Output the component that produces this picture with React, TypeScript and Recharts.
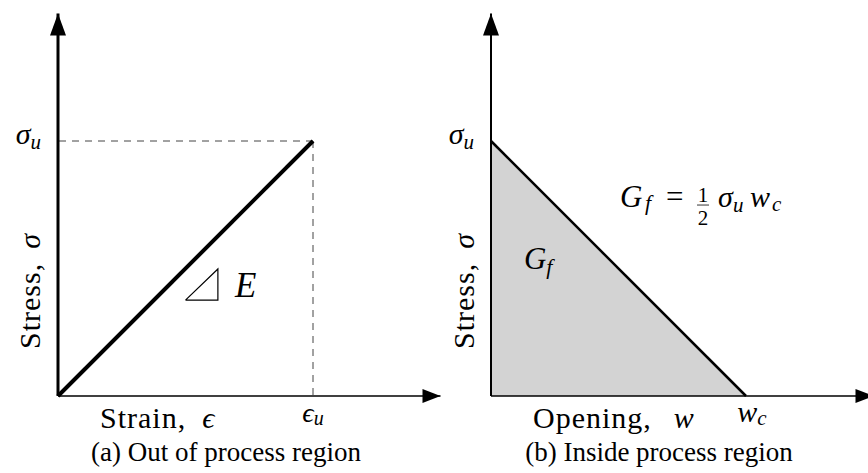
import { ComposedChart, Line, Area, XAxis, YAxis, ReferenceLine, ReferenceDot } from 'recharts';

// both panels are normalised: sigma_u, eps_u and w_c all sit at 1
const AXIS_END = 1.5;
const PEAK = 1;

// (a) linear elastic branch
const strain = [0, 1];
const stress = [0, 1];
// slope marker next to the elastic line
const slopeTriX = [0.5, 0.627, 0.627, 0.5];
const slopeTriY = [0.376, 0.376, 0.498, 0.376];

// (b) linear softening law
const opening = [0, 1];
const softening = [1, 0];

// anchors (baseline-left) for the in-plot math labels
const E_LABEL = { x: 0.694, y: 0.388 };
const GF_LABEL = { x: 0.129, y: 0.498 };
const GF_EQ = { x: 0.506, y: 0.741 };

const elasticData = strain.map((x, i) => ({ x, y: stress[i] }));
const triData = slopeTriX.map((x, i) => ({ x, y: slopeTriY[i] }));
const softData = opening.map((x, i) => ({ x, y: softening[i] }));

const SERIF = "'Liberation Serif', 'DejaVu Serif', serif";
const W = 451;
const H = 473;

const ArrowUp = ({ cx, cy }: any) => (
  <path d={`M${cx},${cy} L${cx - 8},${cy + 22} L${cx + 8},${cy + 22} Z`} fill="#000" />
);
const ArrowRight = ({ cx, cy }: any) => (
  <path d={`M${cx},${cy} L${cx - 18},${cy - 7} L${cx - 18},${cy + 7} Z`} fill="#000" />
);

const SigmaTick = ({ x, y }: any) => (
  <text x={x - 17} y={y + 3} fontFamily={SERIF} fontStyle="italic" fontSize={30} textAnchor="end" fill="#000">
    σ<tspan fontSize={21} dy={5}>u</tspan>
  </text>
);

const EpsTick = ({ x, y }: any) => (
  <text x={x} y={y + 26} fontFamily={SERIF} fontStyle="italic" fontSize={28} textAnchor="middle" fill="#000">
    ϵ<tspan fontSize={20} dy={3}>u</tspan>
  </text>
);

const WcTick = ({ x, y }: any) => (
  <text x={x + 6} y={y + 26} fontFamily={SERIF} fontStyle="italic" fontSize={30} textAnchor="middle" fill="#000">
    w<tspan fontSize={21} dy={3}>c</tspan>
  </text>
);

const stressTitle = ({ viewBox }: any) => {
  const tx = viewBox.x + 40;
  const ty = viewBox.y + viewBox.height - 105;
  return (
    <text x={tx} y={ty} transform={`rotate(-90, ${tx}, ${ty})`} textAnchor="middle" fontFamily={SERIF} fontSize={30} letterSpacing={1} fill="#000">
      Stress,<tspan dx={14} fontStyle="italic">σ</tspan>
    </text>
  );
};

const xTitle = (name: string, sym: string, caption: string, gap: number) => ({ viewBox }: any) => (
  <g fontFamily={SERIF} fill="#000">
    <text x={viewBox.x + 42} y={viewBox.y + 32} fontSize={30} letterSpacing={1}>
      {name}<tspan dx={gap} fontStyle="italic">{sym}</tspan>
    </text>
    <text x={viewBox.x + 168} y={viewBox.y + 65} fontSize={27} textAnchor="middle">{caption}</text>
  </g>
);

const ELabel = ({ cx, cy }: any) => (
  <text x={cx} y={cy} fontFamily={SERIF} fontStyle="italic" fontSize={35} fill="#000">E</text>
);

const GfLabel = ({ cx, cy }: any) => (
  <text x={cx} y={cy} fontFamily={SERIF} fontStyle="italic" fontSize={31} fill="#000">
    G<tspan fontSize={22} dy={5}>f</tspan>
  </text>
);

const GfEquation = ({ cx, cy }: any) => (
  <g fontFamily={SERIF} fill="#000">
    <text x={cx} y={cy} fontStyle="italic" fontSize={31}>G</text>
    <text x={cx + 25} y={cy + 3} fontStyle="italic" fontSize={22}>f</text>
    <text x={cx + 46} y={cy} fontSize={31}>=</text>
    <text x={cx + 83} y={cy - 5} fontSize={21} textAnchor="middle">1</text>
    <line x1={cx + 77} x2={cx + 89} y1={cy - 2} y2={cy - 2} stroke="#000" strokeWidth={0.8} />
    <text x={cx + 83} y={cy + 18} fontSize={21} textAnchor="middle">2</text>
    <text x={cx + 98} y={cy} fontStyle="italic" fontSize={30}>σ</text>
    <text x={cx + 113} y={cy + 5} fontStyle="italic" fontSize={21}>u</text>
    <text x={cx + 130} y={cy} fontStyle="italic" fontSize={30}>w</text>
    <text x={cx + 152} y={cy + 4} fontStyle="italic" fontSize={21}>c</text>
  </g>
);

function ElasticPanel() {
  return (
    <ComposedChart width={W} height={H} margin={{ top: 13.5, right: 10.5, bottom: 0, left: 0 }}>
      <XAxis
        type="number" dataKey="x" domain={[0, AXIS_END]} ticks={[PEAK]} height={77}
        axisLine={{ stroke: '#000', strokeWidth: 1.5 }} tickLine={false} tickSize={0} tickMargin={0}
        tick={(p: any) => <EpsTick {...p} />}
        label={xTitle('Strain,', 'ϵ', '(a) Out of process region', 16)}
      />
      <YAxis
        type="number" dataKey="y" domain={[0, AXIS_END]} ticks={[PEAK]} width={58}
        axisLine={{ stroke: '#000', strokeWidth: 3 }} tickLine={false} tickSize={0} tickMargin={0}
        tick={(p: any) => <SigmaTick {...p} />}
        label={stressTitle}
      />
      <ReferenceLine segment={[{ x: PEAK, y: PEAK }, { x: 0, y: PEAK }]} stroke="#444" strokeWidth={1} strokeDasharray="7 6" ifOverflow="visible" />
      <ReferenceLine segment={[{ x: PEAK, y: PEAK }, { x: PEAK, y: 0 }]} stroke="#444" strokeWidth={1} strokeDasharray="7 6" ifOverflow="visible" />
      <Line data={elasticData} dataKey="y" type="linear" stroke="#000" strokeWidth={4} dot={false} isAnimationActive={false} />
      <Line data={triData} dataKey="y" type="linear" stroke="#000" strokeWidth={1.2} dot={false} isAnimationActive={false} />
      <ReferenceDot x={E_LABEL.x} y={E_LABEL.y} r={1} shape={ELabel} ifOverflow="visible" />
      <ReferenceDot x={0} y={AXIS_END} r={1} shape={ArrowUp} ifOverflow="visible" />
      <ReferenceDot x={AXIS_END} y={0} r={1} shape={ArrowRight} ifOverflow="visible" />
    </ComposedChart>
  );
}

function SofteningPanel() {
  return (
    <ComposedChart width={W} height={H} margin={{ top: 13.5, right: 11.5, bottom: 0, left: 0 }}>
      <XAxis
        type="number" dataKey="x" domain={[0, AXIS_END]} ticks={[PEAK]} height={77}
        axisLine={{ stroke: '#000', strokeWidth: 1.5 }} tickLine={false} tickSize={0} tickMargin={0}
        tick={(p: any) => <WcTick {...p} />}
        label={xTitle('Opening,', 'w', '(b) Inside process region', 22)}
      />
      <YAxis
        type="number" dataKey="y" domain={[0, AXIS_END]} ticks={[PEAK]} width={57}
        axisLine={{ stroke: '#000', strokeWidth: 2 }} tickLine={false} tickSize={0} tickMargin={0}
        tick={(p: any) => <SigmaTick {...p} />}
        label={stressTitle}
      />
      <Area data={softData} dataKey="y" type="linear" stroke="#000" strokeWidth={2.5} fill="#d3d3d3" fillOpacity={1} isAnimationActive={false} />
      <ReferenceDot x={GF_LABEL.x} y={GF_LABEL.y} r={1} shape={GfLabel} ifOverflow="visible" />
      <ReferenceDot x={GF_EQ.x} y={GF_EQ.y} r={1} shape={GfEquation} ifOverflow="visible" />
      <ReferenceDot x={0} y={AXIS_END} r={1} shape={ArrowUp} ifOverflow="visible" />
      <ReferenceDot x={AXIS_END} y={0} r={1} shape={ArrowRight} ifOverflow="visible" />
    </ComposedChart>
  );
}

export default function App() {
  return (
    <div style={{ position: 'absolute', left: 0, top: 0, width: 868, height: 473, overflow: 'hidden', background: '#fff' }}>
      <div style={{ position: 'absolute', left: 0, top: 0 }}>
        <ElasticPanel />
      </div>
      <div style={{ position: 'absolute', left: 434, top: 0 }}>
        <SofteningPanel />
      </div>
    </div>
  );
}
